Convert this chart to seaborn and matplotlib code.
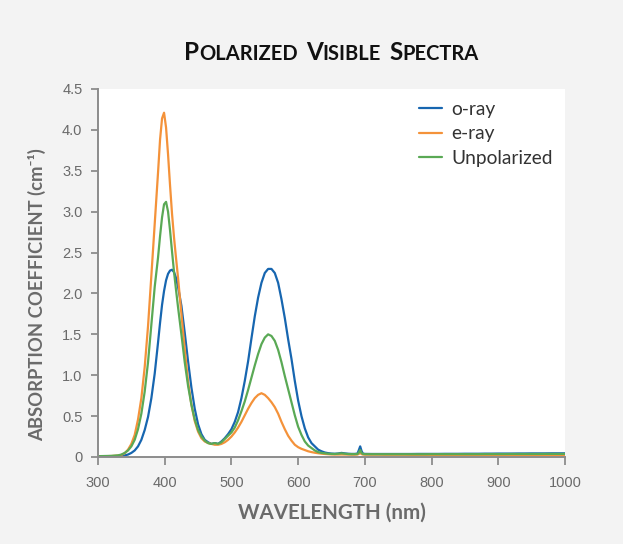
import matplotlib
matplotlib.use("Agg")
import matplotlib.pyplot as plt
from matplotlib.offsetbox import TextArea, HPacker, AnchoredOffsetbox, DrawingArea
from matplotlib.lines import Line2D
import pandas as pd
import seaborn as sns

# Wavelength grid (nm)
wavelength = [
    300, 310, 320, 330, 335, 340, 345, 350, 355, 360,
    365, 370, 375, 380, 385, 390, 393, 396, 399, 402,
    405, 408, 411, 414, 417, 420, 425, 430, 435, 440,
    445, 450, 455, 460, 465, 470, 475, 480, 485, 490,
    495, 500, 505, 510, 515, 520, 525, 530, 535, 540,
    545, 550, 555, 560, 565, 570, 575, 580, 585, 590,
    595, 600, 605, 610, 615, 620, 625, 630, 635, 640,
    645, 650, 655, 660, 665, 670, 675, 680, 685, 689,
    691, 693, 695, 697, 700, 710, 720, 730, 740, 750,
    760, 770, 780, 790, 800, 810, 820, 830, 840, 850,
    860, 870, 880, 890, 900, 910, 920, 930, 940, 950,
    960, 970, 980, 990, 1000,
]

# Absorption coefficient (cm^-1)
o_ray = [
    0.010, 0.010, 0.010, 0.012, 0.015, 0.020, 0.030, 0.05, 0.08, 0.13,
    0.21, 0.33, 0.49, 0.72, 1.02, 1.40, 1.64, 1.86, 2.03, 2.16,
    2.24, 2.28, 2.29, 2.26, 2.19, 2.08, 1.85, 1.52, 1.17, 0.85,
    0.59, 0.40, 0.28, 0.21, 0.18, 0.16, 0.17, 0.16, 0.19, 0.23,
    0.28, 0.34, 0.43, 0.55, 0.72, 0.93, 1.17, 1.45, 1.72, 1.95,
    2.13, 2.25, 2.30, 2.30, 2.25, 2.13, 1.93, 1.70, 1.44, 1.20,
    0.93, 0.69, 0.50, 0.35, 0.24, 0.17, 0.13, 0.09, 0.07, 0.055,
    0.047, 0.042, 0.040, 0.043, 0.050, 0.044, 0.040, 0.038, 0.038, 0.042,
    0.085, 0.13, 0.075, 0.042, 0.038, 0.037, 0.037, 0.037, 0.037, 0.037,
    0.037, 0.037, 0.038, 0.038, 0.038, 0.038, 0.039, 0.039, 0.039, 0.040,
    0.040, 0.040, 0.041, 0.041, 0.042, 0.042, 0.042, 0.043, 0.043, 0.044,
    0.044, 0.044, 0.045, 0.045, 0.045,
]

e_ray = [
    0.010, 0.010, 0.012, 0.018, 0.025, 0.045, 0.09, 0.16, 0.27, 0.46,
    0.72, 1.10, 1.60, 2.22, 2.85, 3.48, 3.88, 4.14, 4.21, 4.03,
    3.70, 3.32, 2.97, 2.68, 2.43, 2.19, 1.75, 1.32, 0.92, 0.64,
    0.44, 0.31, 0.23, 0.19, 0.17, 0.16, 0.15, 0.15, 0.16, 0.18,
    0.21, 0.25, 0.30, 0.36, 0.43, 0.51, 0.59, 0.66, 0.72, 0.76,
    0.78, 0.76, 0.72, 0.67, 0.61, 0.53, 0.43, 0.34, 0.26, 0.20,
    0.15, 0.12, 0.10, 0.085, 0.07, 0.06, 0.052, 0.046, 0.041, 0.037,
    0.034, 0.031, 0.030, 0.030, 0.031, 0.030, 0.029, 0.028, 0.028, 0.030,
    0.038, 0.050, 0.036, 0.030, 0.028, 0.028, 0.028, 0.027, 0.027, 0.027,
    0.027, 0.026, 0.026, 0.026, 0.026, 0.025, 0.025, 0.025, 0.025, 0.025,
    0.024, 0.024, 0.024, 0.024, 0.024, 0.024, 0.023, 0.023, 0.023, 0.023,
    0.023, 0.022, 0.022, 0.022, 0.022,
]

unpolarized = [
    0.010, 0.012, 0.014, 0.020, 0.030, 0.05, 0.08, 0.13, 0.21, 0.34,
    0.53, 0.80, 1.16, 1.62, 2.08, 2.44, 2.70, 2.93, 3.09, 3.12,
    3.00, 2.77, 2.51, 2.26, 2.04, 1.83, 1.50, 1.16, 0.87, 0.64,
    0.46, 0.33, 0.25, 0.20, 0.17, 0.16, 0.17, 0.16, 0.18, 0.22,
    0.26, 0.30, 0.36, 0.45, 0.56, 0.68, 0.82, 0.97, 1.12, 1.26,
    1.38, 1.46, 1.50, 1.48, 1.42, 1.31, 1.16, 0.99, 0.83, 0.67,
    0.51, 0.37, 0.27, 0.19, 0.14, 0.11, 0.08, 0.06, 0.05, 0.045,
    0.040, 0.038, 0.037, 0.040, 0.045, 0.040, 0.036, 0.035, 0.035, 0.037,
    0.055, 0.085, 0.050, 0.037, 0.035, 0.034, 0.034, 0.034, 0.034, 0.034,
    0.034, 0.034, 0.034, 0.034, 0.035, 0.035, 0.035, 0.035, 0.035, 0.035,
    0.035, 0.035, 0.036, 0.036, 0.036, 0.036, 0.037, 0.037, 0.037, 0.037,
    0.037, 0.038, 0.038, 0.038, 0.038,
]

series_names = ["o-ray", "e-ray", "Unpolarized"]
series_colors = ["#1766b0", "#f4923a", "#5aa955"]

x_ticks = [300, 400, 500, 600, 700, 800, 900, 1000]
y_ticks = [0, 0.5, 1.0, 1.5, 2.0, 2.5, 3.0, 3.5, 4.0, 4.5]
y_tick_labels = ["0", "0.5", "1.0", "1.5", "2.0", "2.5", "3.0", "3.5", "4.0", "4.5"]

title_words = ["Polarized", "Visible", "Spectra"]
x_label = "WAVELENGTH (nm)"
y_label = "ABSORPTION COEFFICIENT (cm⁻¹)"

# Long-form table for seaborn
frames = []
for name, values in zip(series_names, [o_ray, e_ray, unpolarized]):
    frames.append(pd.DataFrame({"wavelength": wavelength, "absorption": values, "series": name}))
df = pd.concat(frames, ignore_index=True)

sns.set_style("ticks")
plt.rcParams["font.family"] = ["Liberation Sans", "DejaVu Sans"]

bg = "#f3f3f3"
axis_gray = "#8c8c8c"
text_gray = "#6a6a6a"

fig = plt.figure(figsize=(6.23, 5.44), dpi=100, facecolor=bg)
ax = fig.add_axes([98 / 623, 1 - 457 / 544, 467 / 623, 368 / 544])
ax.set_facecolor("white")

palette = dict(zip(series_names, series_colors))
sns.lineplot(data=df, x="wavelength", y="absorption", hue="series",
             hue_order=series_names, palette=palette, linewidth=1.6,
             errorbar=None, legend=False, ax=ax)

ax.set_xlim(300, 1000)
ax.set_ylim(0, 4.5)
ax.set_xticks(x_ticks)
ax.set_xticklabels([str(t) for t in x_ticks])
ax.set_yticks(y_ticks)
ax.set_yticklabels(y_tick_labels)
ax.set_xlabel("")
ax.set_ylabel("")

for side in ["top", "right"]:
    ax.spines[side].set_visible(False)
for side in ["left", "bottom"]:
    ax.spines[side].set_color(axis_gray)
    ax.spines[side].set_linewidth(1.4)

ax.tick_params(axis="x", direction="out", length=5.8, width=1.3, color=axis_gray,
               pad=8, labelsize=10.5, labelcolor=text_gray)
ax.tick_params(axis="y", direction="out", length=5.2, width=1.3, color=axis_gray,
               pad=6, labelsize=10.5, labelcolor=text_gray)

# Axis titles
fig.text(331.5 / 623, 1 - 513 / 544, x_label, ha="center", va="center",
         family=["Lato", "DejaVu Sans"], weight="bold", size=14.8, color=text_gray)
fig.text(37 / 623, 1 - 295 / 544, y_label, ha="center", va="center", rotation=90,
         family=["Lato", "DejaVu Sans"], weight="bold", size=13.3, color=text_gray)

# Small-caps title
big = dict(family="Lato", weight="bold", size=17.5, color="#111111")
small = dict(family="Lato", weight="bold", size=14.5, color="#111111")
parts = []
for i, word in enumerate(title_words):
    parts.append(TextArea(word[0].upper(), textprops=big))
    parts.append(TextArea(word[1:].upper(), textprops=small))
    if i < len(title_words) - 1:
        parts.append(DrawingArea(6, 1))
title_box = HPacker(children=parts, align="baseline", pad=0, sep=0)
anchored = AnchoredOffsetbox(loc="center", child=title_box, pad=0, borderpad=0,
                             frameon=False, bbox_to_anchor=(331.5 / 623, 1 - 52 / 544),
                             bbox_transform=fig.transFigure)
fig.add_artist(anchored)

# Legend
handles = [Line2D([], [], color=c, linewidth=1.6) for c in series_colors]
ax.legend(handles, series_names, loc="upper left",
          bbox_to_anchor=((419 - 98) / 467, (457 - 101) / 368),
          frameon=False, borderpad=0, borderaxespad=0, handlelength=1.2,
          handletextpad=0.5, labelspacing=0.38,
          prop=dict(family="Lato", size=13.8), labelcolor="#333333")

fig.savefig("out.png", dpi=100, facecolor=bg)
